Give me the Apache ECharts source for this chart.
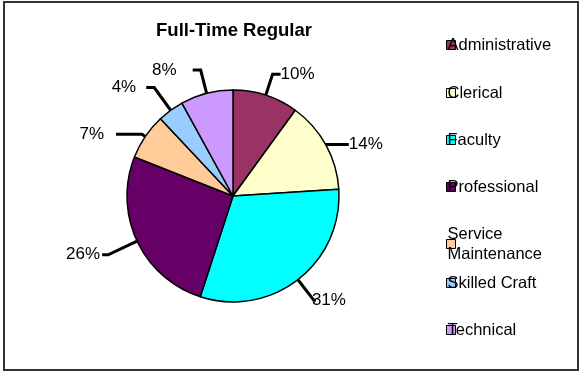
<!DOCTYPE html>
<html>
<head>
<meta charset="utf-8">
<script src="https://cdn.jsdelivr.net/npm/echarts@6/dist/echarts.min.js"></script>
<style>
  html, body { margin: 0; padding: 0; background: #fff; }
  #chart { width: 580px; height: 373px; }
</style>
</head>
<body>
<div id="chart"></div>
<script>
// slice names, in clockwise order from 12 o'clock
const categories = ['Administrative', 'Clerical', 'Faculty', 'Professional', 'Service Maintenance', 'Skilled Craft', 'Technical']
// percent of full-time regular staff
const shares = [10, 14, 31, 26, 7, 4, 8]
const colors = ['#993366', '#ffffcc', '#00ffff', '#660066', '#ffcc99', '#99ccff', '#cc99ff']
// legend row (top y) for each item
const legendTops = [35, 83, 130, 177, 224, 273, 320]

// leader line tweaks per slice: [length, length2, gap to text]
const leaders = [[22, 8, 0], [1, 22, 0], [26, 2, -4], [32, 6, 2], [4, 26, 12], [28, 8, 10], [24, 8, 16]]

const chart = echarts.init(document.getElementById('chart'))

const legends = categories.map((name, i) => ({
  orient: 'vertical',
  left: 446,
  top: legendTops[i],
  padding: 0,
  data: [name],
  icon: 'rect',
  itemWidth: 9,
  itemHeight: 9,
  itemStyle: { borderColor: '#000', borderWidth: 1 },
  selectedMode: false,
  formatter: n => n === 'Service Maintenance' ? 'Service\nMaintenance' : n,
  textStyle: {
    fontFamily: 'Liberation Sans, Arial, sans-serif',
    fontSize: 16.5,
    color: '#000',
    lineHeight: 20,
    padding: [0, 0, 0, -13]
  }
}))

const option = {
  animation: false,
  color: colors,
  title: {
    text: 'Full-Time Regular',
    left: 229,
    top: 16,
    textAlign: 'center',
    textStyle: {
      fontFamily: 'Liberation Sans, Arial, sans-serif',
      fontSize: 18.5,
      fontWeight: 'bold',
      color: '#000'
    }
  },
  legend: legends,
  graphic: [{
    type: 'rect',
    shape: { x: 4, y: 2, width: 574, height: 368 },
    style: { fill: 'none', stroke: '#333', lineWidth: 2 },
    silent: true
  }],
  series: [{
    type: 'pie',
    center: [233, 196],
    radius: 106,
    startAngle: 90,
    clockwise: true,
    avoidLabelOverlap: false,
    itemStyle: { borderColor: '#000', borderWidth: 1.5 },
    label: {
      formatter: '{d}%',
      fontFamily: 'Liberation Sans, Arial, sans-serif',
      fontSize: 17,
      color: '#000'
    },
    labelLine: {
      show: true,
      lineStyle: { color: '#000', width: 3 }
    },
    emphasis: { disabled: true },
    data: categories.map((name, i) => ({
      name: name,
      value: shares[i],
      label: { distanceToLabelLine: leaders[i][2] },
      labelLine: { length: leaders[i][0], length2: leaders[i][1] }
    }))
  }]
}

chart.setOption(option)
</script>
</body>
</html>
